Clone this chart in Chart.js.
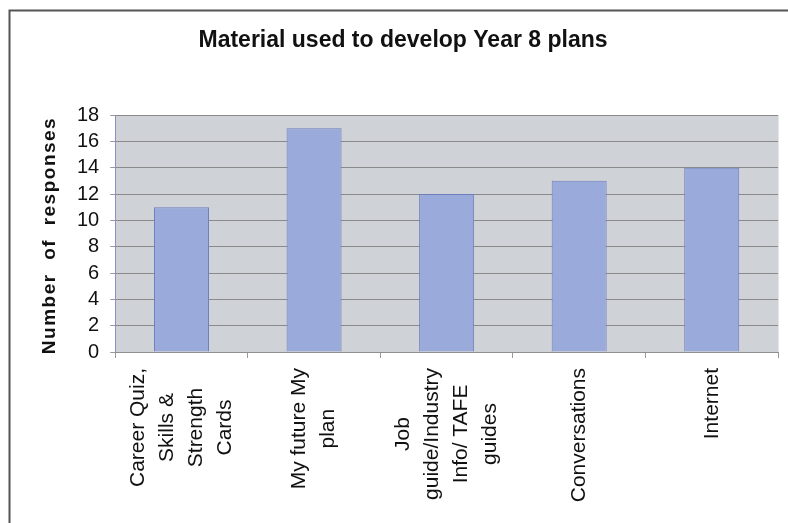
<!DOCTYPE html>
<html>
<head>
<meta charset="utf-8">
<script src="https://cdn.jsdelivr.net/npm/chart.js@4.4.0/dist/chart.umd.min.js"></script>
<style>
  html, body { margin: 0; padding: 0; background: #fff; }
  #wrap { position: relative; width: 788px; height: 523px; }
</style>
</head>
<body>
<div id="wrap"><canvas id="materialChart"></canvas></div>
<script>
// chart data
const chartTitle = 'Material used to develop Year 8 plans';
const yTitle = 'Number  of  responses';
const categories = [
  ['Career Quiz,', 'Skills &', 'Strength', 'Cards'],
  ['My future My', 'plan'],
  ['Job', 'guide/Industry', 'Info/ TAFE', 'guides'],
  ['Conversations'],
  ['Internet']
];
const responses = [11, 17, 12, 13, 14];
const yTicks = [0, 2, 4, 6, 8, 10, 12, 14, 16, 18];

const FONT = '"Liberation Sans", Arial, sans-serif';

// grey plot background, frame, titles and centred rotated category labels
const decor = {
  id: 'decor',
  beforeDraw(chart) {
    const { ctx, chartArea: a } = chart;
    ctx.save();
    ctx.fillStyle = '#cfd2d7';
    ctx.fillRect(a.left, a.top, a.right - a.left, a.bottom - a.top);
    ctx.restore();
  },
  afterDraw(chart) {
    const { ctx, chartArea: a, scales: { x } } = chart;
    ctx.save();

    // outer frame (only left and top edges are visible)
    ctx.strokeStyle = '#555';
    ctx.lineWidth = 2;
    ctx.beginPath();
    ctx.moveTo(9.5, 600);
    ctx.lineTo(9.5, 10.5);
    ctx.lineTo(800, 10.5);
    ctx.stroke();

    // light right edge of the plot
    ctx.strokeStyle = '#e2e4e8';
    ctx.lineWidth = 1;
    ctx.beginPath();
    ctx.moveTo(a.right + 0.5, a.top);
    ctx.lineTo(a.right + 0.5, a.bottom);
    ctx.stroke();

    // title
    ctx.fillStyle = '#111';
    ctx.font = 'bold 23px ' + FONT;
    ctx.textAlign = 'center';
    ctx.textBaseline = 'alphabetic';
    ctx.fillText(chartTitle, 403, 47);

    // y axis title
    ctx.save();
    ctx.translate(55, (a.top + a.bottom) / 2 + 2);
    ctx.rotate(-Math.PI / 2);
    ctx.font = 'bold 19px ' + FONT;
    ctx.letterSpacing = '1.5px';
    ctx.fillText(yTitle, 0, 0);
    ctx.restore();

    // category labels
    ctx.font = '21px ' + FONT;
    ctx.textBaseline = 'middle';
    categories.forEach((lines, i) => {
      const px = x.getPixelForValue(i);
      const maxW = Math.max(...lines.map(l => ctx.measureText(l).width));
      ctx.save();
      ctx.translate(px, a.bottom + 16);
      ctx.rotate(-Math.PI / 2);
      lines.forEach((l, j) => {
        ctx.fillText(l, -maxW / 2, (j - (lines.length - 1) / 2) * 29);
      });
      ctx.restore();
    });

    ctx.restore();
  }
};

const ctx = document.getElementById('materialChart');

new Chart(ctx, {
  type: 'bar',
  data: {
    labels: categories,
    datasets: [{
      data: responses,
      backgroundColor: '#9aaadb',
      borderColor: '#6f7fbc',
      borderWidth: 1,
      categoryPercentage: 1,
      barPercentage: 0.415
    }]
  },
  options: {
    responsive: true,
    maintainAspectRatio: false,
    animation: false,
    layout: {
      padding: { top: 115, left: 66, right: 10, bottom: 165 }
    },
    scales: {
      x: {
        grid: {
          offset: true,
          drawOnChartArea: false,
          drawTicks: true,
          tickLength: 6,
          tickColor: '#9a9a9a'
        },
        border: { color: '#8f8f8f' },
        ticks: { display: false }
      },
      y: {
        min: 0,
        max: 18,
        afterBuildTicks: s => { s.ticks = yTicks.map(v => ({ value: v })); },
        grid: {
          color: '#8a8a8a',
          tickLength: 5,
          tickColor: '#9a9a9a'
        },
        border: { color: '#8890c8' },
        ticks: {
          autoSkip: false,
          padding: 11,
          color: '#111',
          font: { family: FONT, size: 20 }
        }
      }
    },
    plugins: {
      legend: { display: false },
      tooltip: { enabled: false }
    }
  },
  plugins: [decor]
});
</script>
</body>
</html>
